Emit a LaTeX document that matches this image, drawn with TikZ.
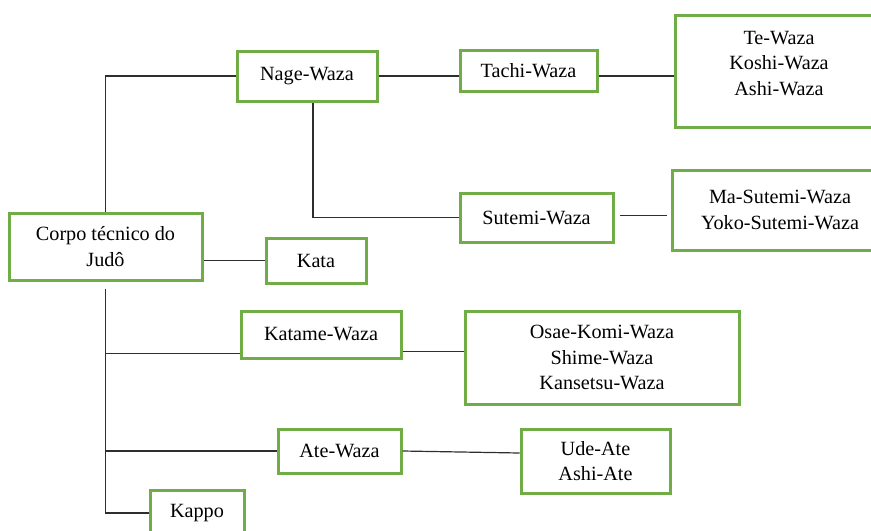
\documentclass[tikz,border=0pt]{standalone}
\usepackage{fontspec}
\setmainfont{Liberation Serif}
\usetikzlibrary{positioning}
\definecolor{boxgreen}{HTML}{70AD47}
\definecolor{wire}   {HTML}{2E2E2E}
\tikzset{
  every node/.style={font=\fontsize{10.1}{12.7}\selectfont},
  % --- nodes
  box/.style  = {draw=boxgreen, line width=1.5pt, fill=white, align=center, inner sep=2pt},
  % --- edges
  link/.style = {draw=wire, line width=0.6pt},
}

\begin{document}
\begin{tikzpicture}[x=0.5pt,y=-0.5pt]
  \useasboundingbox (0,0) rectangle (871,530);
  \clip (0,0) rectangle (871,530);
  % root
  \node[box, minimum width=96.5pt, minimum height=33.5pt] (corpo) at (105.5,246.5) {Corpo técnico do\\Judô};
  % upper branch
  \node[box, minimum width=70pt,   minimum height=25pt]   (nage)   at (307,76)     {Nage-Waza};
  \node[box, minimum width=68.5pt, minimum height=20.5pt] (tachi)  at (528.5,70.5) {Tachi-Waza};
  \node[box, minimum width=104pt,  minimum height=56pt]   (teb)    at (779,71)     {Te-Waza\\Koshi-Waza\\Ashi-Waza\\[-5pt]\mbox{}};
  \node[box, minimum width=76.5pt, minimum height=24.5pt] (sutemi) at (536.5,217.5) {Sutemi-Waza};
  \node[box, minimum width=108pt,  minimum height=40pt]   (masut)  at (780,210)    {Ma-Sutemi-Waza\\Yoko-Sutemi-Waza};
  \node[box, minimum width=50pt,   minimum height=22.5pt] (kata)   at (316,260.5)  {Kata};
  % lower branch
  \node[box, minimum width=80pt,   minimum height=23.5pt] (katame) at (321,334.5)  {Katame-Waza};
  \node[box, minimum width=137pt,  minimum height=46.5pt] (osae)   at (602,357.5)  {Osae-Komi-Waza\\Shime-Waza\\Kansetsu-Waza};
  \node[box, minimum width=61.5pt, minimum height=22pt]   (ate)    at (339.5,451)  {Ate-Waza};
  \node[box, minimum width=74.5pt, minimum height=32pt]   (ude)    at (595.5,461)  {Ude-Ate\\Ashi-Ate};
  \node[box, minimum width=47pt,   minimum height=23pt]   (kappo)  at (197,513)    {Kappo};

  % connectors
  \draw[link] (corpo.north) |- (nage.west);
  \draw[link] (nage.east) -- (nage.east -| tachi.west);
  \draw[link] (tachi.east |- nage.east) -- (teb.west |- nage.east);
  \draw[link] ([xshift=3pt]nage.south) |- (sutemi.west);
  \draw[link] ([xshift=2.5pt,yshift=1pt]sutemi.east) -- ([xshift=-2pt,yshift=1pt]sutemi.east -| masut.west);
  \draw[link] (corpo.east |- kata.west) -- (kata.west);
  \draw[link] ([yshift=-3.5pt]corpo.south) |- (kappo.west);
  \draw[link] ([yshift=3pt]katame.south west -| corpo.south) -- ([yshift=3pt]katame.south west);
  \draw[link] ([yshift=4pt]katame.south east) -- ([yshift=4pt]katame.south east -| osae.west);
  \draw[link] (ate.west -| corpo.south) -- (ate.west);
  \draw[link] (ate.east) -- ([yshift=-1pt]ate.east -| ude.west);
\end{tikzpicture}
\end{document}
